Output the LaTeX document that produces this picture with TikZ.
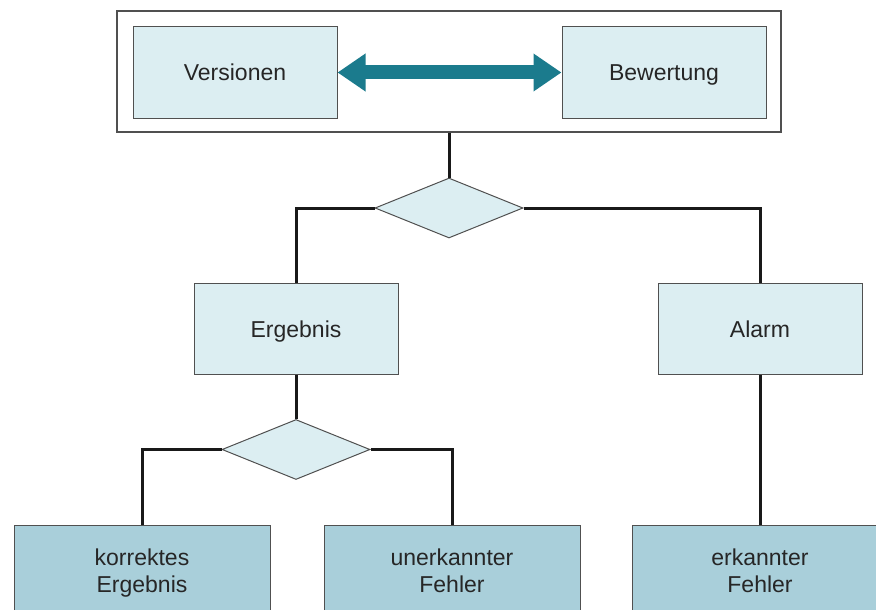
\documentclass[tikz,border=0pt]{standalone}
\usepackage{fontspec}
\setmainfont{Liberation Sans}
\usetikzlibrary{arrows.meta,shapes.geometric}

\definecolor{paleCyan}{HTML}{DCEEF2}
\definecolor{deepCyan}{HTML}{A9CFDA}
\definecolor{arrowTeal}{HTML}{1B7B8D}
\definecolor{edgeGray}{HTML}{505050}

\begin{document}
\begin{tikzpicture}[x=1pt,y=-1pt]
% y is flipped so coordinates follow the pixel grid of the reference

% style
\tikzset{
    every node/.style={font=\fontsize{23}{27}\selectfont, text=black!85, align=center},
    baseBox/.style={draw=edgeGray, line width=1pt, fill=paleCyan, minimum width=204pt, minimum height=91pt, inner sep=0pt, text height=16.5pt, text depth=0pt},
    leafBox/.style={draw=edgeGray, line width=1pt, fill=deepCyan, minimum width=256pt, minimum height=91pt, inner sep=0pt, text depth=0pt},
    choice/.style={diamond, draw=edgeGray, line width=1pt, fill=paleCyan, minimum width=148pt, minimum height=60pt, inner sep=0pt},
    outerFrame/.style={draw=edgeGray, line width=1.5pt, fill=white, minimum width=664pt, minimum height=121pt, inner sep=0pt},
    connLine/.style={draw=black!90, line width=3pt},
    bigArrow/.style={draw=arrowTeal, line width=14pt, {Triangle[length=28pt, width=36pt]}-{Triangle[length=28pt, width=36pt]}}
}

\useasboundingbox (0,0) rectangle (876,610);

% top frame
\node[outerFrame] (frame) at (449,71.5) {};
\node[baseBox] (vers) at (235,72.5) {Versionen};
\node[baseBox] (bew)  at (664,72.5) {Bewertung};
\draw[bigArrow] (vers.east) -- (bew.west);

% decisions
\node[choice] (d1) at (449,208) {};
\node[choice] (d2) at (296,449.5) {};

% middle boxes
\node[baseBox] (erg)   at (296,329) {Ergebnis};
\node[baseBox] (alarm) at (760,329) {Alarm};

% leaf boxes
\node[leafBox] (korr) at (142,571) {korrektes\\Ergebnis};
\node[leafBox] (unerk) at (452,571) {unerkannter\\Fehler};
\node[leafBox] (erk) at (760,571) {erkannter\\Fehler};

% lines
\draw[connLine] (frame.south) -- (d1.north);
\draw[connLine] (d1.west) -| (erg.north);
\draw[connLine] (d1.east) -| (alarm.north);
\draw[connLine] (erg.south) -- (d2.north);
\draw[connLine] (d2.west) -| (korr.north);
\draw[connLine] (d2.east) -| (unerk.north);
\draw[connLine] (alarm.south) -- (erk.north);

\end{tikzpicture}
\end{document}
